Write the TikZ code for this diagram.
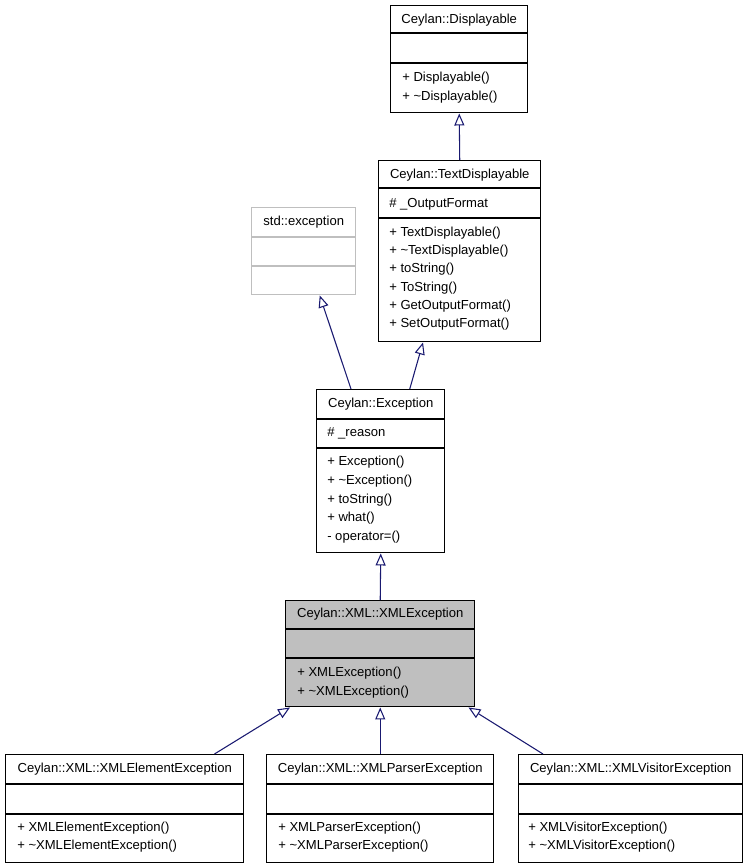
\documentclass[tikz,border=0pt]{standalone}
\usepackage{fontspec}
\setmainfont{Liberation Sans}
\usetikzlibrary{arrows.meta}
\definecolor{edgeblue}{HTML}{191970}
\definecolor{boxgray}{HTML}{BFBFBF}

\begin{document}
\begin{tikzpicture}[x=0.75pt, y=-0.75pt, font=\fontsize{9.8}{12}\selectfont,
    classbox/.style={draw, line width=1.1pt, inner sep=0pt, anchor=north west},
    sep/.style={line width=0.9pt},
    member/.style={anchor=west, inner sep=0pt, text height=7pt, text depth=0pt},
    title/.style={inner sep=0pt, text height=7pt, text depth=0pt},
    inherit/.style={draw=edgeblue, line width=0.8pt, -{Triangle[open, length=9pt, width=7.5pt]}}]
  \useasboundingbox (0,0) rectangle (747,867);

  % Ceylan::Displayable
  \node[classbox, minimum width=137*0.75pt, minimum height=107*0.75pt] (disp) at (390,5) {};
  \draw[sep] (disp.west |- 0,33) -- (disp.east |- 0,33);
  \draw[sep] (disp.west |- 0,63) -- (disp.east |- 0,63);
  \node[title] (disp-t) at (disp.north |- 0,19) {Ceylan::Displayable};
  \foreach \m [count=\i from 0] in {+ Displayable(), + \textasciitilde Displayable()}
    \node[member] (disp-m\i) at (402,77+18.5*\i) {\m};

  % Ceylan::TextDisplayable
  \node[classbox, minimum width=162*0.75pt, minimum height=181*0.75pt] (txtd) at (378,160) {};
  \draw[sep] (txtd.west |- 0,188) -- (txtd.east |- 0,188);
  \draw[sep] (txtd.west |- 0,218) -- (txtd.east |- 0,218);
  \node[title] (txtd-t) at (txtd.north |- 0,174) {Ceylan::TextDisplayable};
  \node[member] (txtd-a) at (389,203) {\# \_OutputFormat};
  \foreach \m [count=\i from 0] in {+ TextDisplayable(), + \textasciitilde TextDisplayable(),
      + toString(), + ToString(), + GetOutputFormat(), + SetOutputFormat()}
    \node[member] (txtd-m\i) at (389,231.7+18.3*\i) {\m};

  % std::exception
  \node[classbox, draw=boxgray, minimum width=104*0.75pt, minimum height=87*0.75pt] (stdexc) at (251,207) {};
  \draw[sep, boxgray] (stdexc.west |- 0,237) -- (stdexc.east |- 0,237);
  \draw[sep, boxgray] (stdexc.west |- 0,266) -- (stdexc.east |- 0,266);
  \node[title] (stdexc-t) at (stdexc.north |- 0,221) {std::exception};

  % Ceylan::Exception
  \node[classbox, minimum width=128*0.75pt, minimum height=163*0.75pt] (exc) at (316,389) {};
  \draw[sep] (exc.west |- 0,419) -- (exc.east |- 0,419);
  \draw[sep] (exc.west |- 0,448) -- (exc.east |- 0,448);
  \node[title] (exc-t) at (exc.north |- 0,403) {Ceylan::Exception};
  \node[member] (exc-a) at (327,432) {\# \_reason};
  \foreach \m [count=\i from 0] in {+ Exception(), + \textasciitilde Exception(),
      + toString(), + what(), - operator=()}
    \node[member] (exc-m\i) at (327,461+18.75*\i) {\m};

  % Ceylan::XML::XMLException
  \node[classbox, fill=boxgray, minimum width=189*0.75pt, minimum height=106*0.75pt] (xmlexc) at (285,600) {};
  \draw[sep] (xmlexc.west |- 0,629) -- (xmlexc.east |- 0,629);
  \draw[sep] (xmlexc.west |- 0,658) -- (xmlexc.east |- 0,658);
  \node[title] (xmlexc-t) at (xmlexc.north |- 0,613) {Ceylan::XML::XMLException};
  \foreach \m [count=\i from 0] in {+ XMLException(), + \textasciitilde XMLException()}
    \node[member] (xmlexc-m\i) at (297,672.3+18.4*\i) {\m};

  % the three derived exceptions
  \node[classbox, minimum width=238*0.75pt, minimum height=108*0.75pt] (elem) at (5,754) {};
  \node[classbox, minimum width=227*0.75pt, minimum height=108*0.75pt] (pars) at (266,754) {};
  \node[classbox, minimum width=224*0.75pt, minimum height=108*0.75pt] (visit) at (518,754) {};
  \foreach \b in {elem, pars, visit} {
    \draw[sep] (\b.west |- 0,784) -- (\b.east |- 0,784);
    \draw[sep] (\b.west |- 0,814) -- (\b.east |- 0,814);
  }
  \node[title] (elem-t) at (elem.north |- 0,768) {Ceylan::XML::XMLElementException};
  \node[title] (pars-t) at (pars.north |- 0,768) {Ceylan::XML::XMLParserException};
  \node[title] (visit-t) at (visit.north |- 0,768) {Ceylan::XML::XMLVisitorException};
  \node[member] (elem-m0) at (17,827) {+ XMLElementException()};
  \node[member] (elem-m1) at (17,845.3) {+ \textasciitilde XMLElementException()};
  \node[member] (pars-m0) at (278,827) {+ XMLParserException()};
  \node[member] (pars-m1) at (278,845.3) {+ \textasciitilde XMLParserException()};
  \node[member] (visit-m0) at (528,827) {+ XMLVisitorException()};
  \node[member] (visit-m1) at (528,845.3) {+ \textasciitilde XMLVisitorException()};

  % inheritance
  \draw[inherit] (txtd.north) -- (disp.south);
  \draw[inherit] ([xshift=26.25pt]exc.north west) -- ([xshift=12pt]stdexc.south);
  \draw[inherit] ([xshift=21.75pt]exc.north) -- ([xshift=33.75pt]txtd.south west);
  \draw[inherit] (xmlexc.north) -- (exc.south);
  \draw[inherit] ([xshift=-22.5pt]elem.north east) -- ([xshift=3.75pt]xmlexc.south west);
  \draw[inherit] (pars.north) -- (xmlexc.south);
  \draw[inherit] ([xshift=18.75pt]visit.north west) -- ([xshift=-5.25pt]xmlexc.south east);
\end{tikzpicture}
\end{document}
